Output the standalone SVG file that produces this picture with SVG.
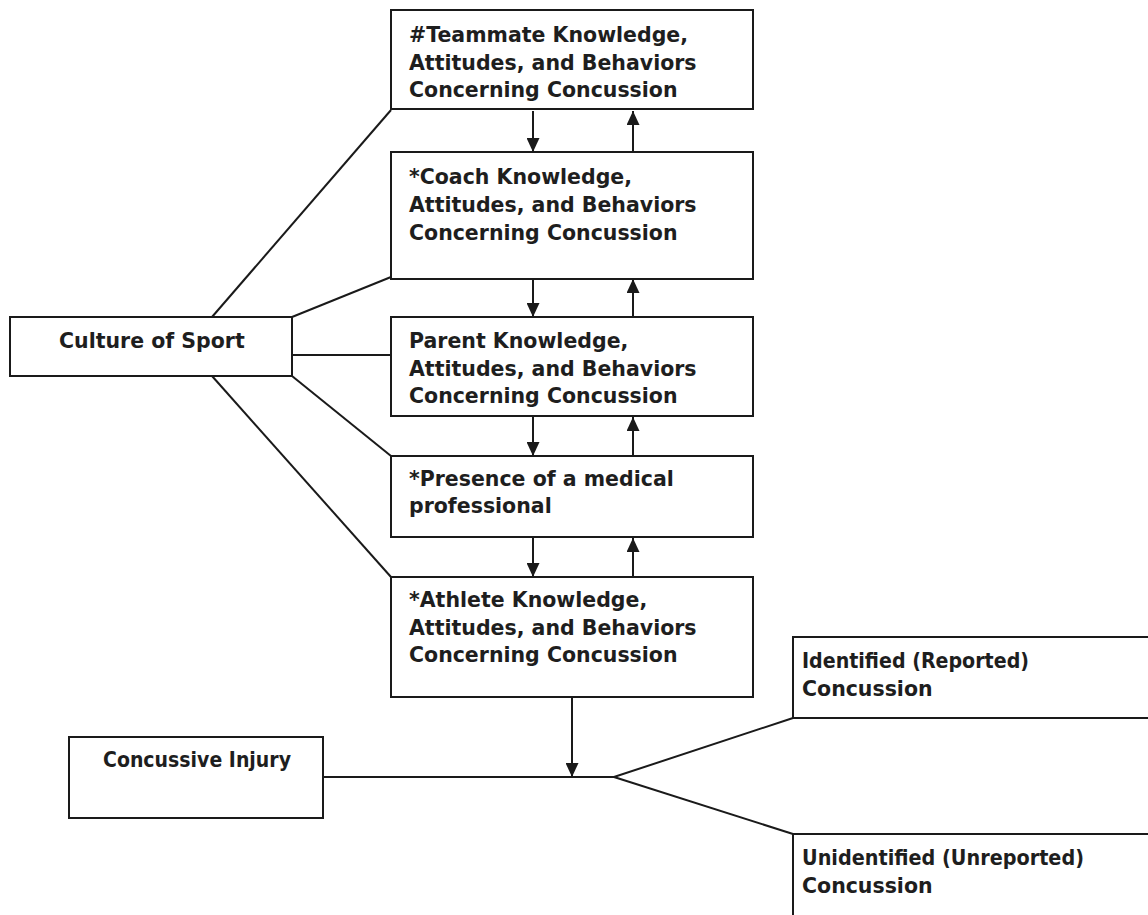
<svg xmlns="http://www.w3.org/2000/svg" width="1148" height="915" viewBox="0 0 1148 915">
  <style>
    .box { fill: #ffffff; stroke: #1a1a1a; stroke-width: 2; }
    .lbl { font-family: "DejaVu Sans", Verdana, sans-serif; font-weight: bold; font-size: 20.5px; fill: #1e1e1e; }
    .link { fill: none; stroke: #1a1a1a; stroke-width: 2; }
    .arrow { fill: none; stroke: #1a1a1a; stroke-width: 2; marker-end: url(#head); }
  </style>
  <defs>
    <marker id="head" viewBox="0 0 14 13" refX="14" refY="6.5" markerWidth="14" markerHeight="13" markerUnits="userSpaceOnUse" orient="auto">
      <path d="M0,0 L14,6.5 L0,13 Z" fill="#1a1a1a"/>
    </marker>
  </defs>
  <rect width="1148" height="915" fill="#ffffff"/>

  <!-- connectors -->
  <g id="connectors">
    <!-- culture of sport fan-out -->
    <line class="link" x1="212" y1="317" x2="391" y2="110"/>
    <line class="link" x1="292" y1="317" x2="391" y2="277"/>
    <line class="link" x1="292" y1="355" x2="391" y2="355"/>
    <line class="link" x1="292" y1="376" x2="391" y2="456"/>
    <line class="link" x1="212" y1="376" x2="391" y2="577"/>
    <!-- vertical influence chain -->
    <line class="arrow" x1="533" y1="111" x2="533" y2="152"/>
    <line class="arrow" x1="633" y1="152" x2="633" y2="111"/>
    <line class="arrow" x1="533" y1="276" x2="533" y2="317"/>
    <line class="arrow" x1="633" y1="317" x2="633" y2="279"/>
    <line class="arrow" x1="533" y1="416" x2="533" y2="456"/>
    <line class="arrow" x1="633" y1="456" x2="633" y2="417"/>
    <line class="arrow" x1="533" y1="537" x2="533" y2="577"/>
    <line class="arrow" x1="633" y1="577" x2="633" y2="538"/>
    <!-- athlete to injury outcome -->
    <line class="arrow" x1="572" y1="697" x2="572" y2="777"/>
    <polyline class="link" points="323,777 614,777 793,718"/>
    <line class="link" x1="614" y1="777" x2="793" y2="834"/>
  </g>

  <g id="teammate">
    <rect class="box" x="391" y="10" width="362" height="99"/>
    <text class="lbl" x="409" y="42">#Teammate Knowledge,</text>
    <text class="lbl" x="409" y="69.5">Attitudes, and Behaviors</text>
    <text class="lbl" x="409" y="97">Concerning Concussion</text>
  </g>

  <g id="coach">
    <rect class="box" x="391" y="152" width="362" height="127"/>
    <text class="lbl" x="409" y="184">*Coach Knowledge,</text>
    <text class="lbl" x="409" y="212">Attitudes, and Behaviors</text>
    <text class="lbl" x="409" y="240">Concerning Concussion</text>
  </g>

  <g id="parent">
    <rect class="box" x="391" y="317" width="362" height="99"/>
    <text class="lbl" x="409" y="348">Parent Knowledge,</text>
    <text class="lbl" x="409" y="375.5">Attitudes, and Behaviors</text>
    <text class="lbl" x="409" y="403">Concerning Concussion</text>
  </g>

  <g id="medical">
    <rect class="box" x="391" y="456" width="362" height="81"/>
    <text class="lbl" x="409" y="486">*Presence of a medical</text>
    <text class="lbl" x="409" y="513">professional</text>
  </g>

  <g id="athlete">
    <rect class="box" x="391" y="577" width="362" height="120"/>
    <text class="lbl" x="409" y="607">*Athlete Knowledge,</text>
    <text class="lbl" x="409" y="635">Attitudes, and Behaviors</text>
    <text class="lbl" x="409" y="662">Concerning Concussion</text>
  </g>

  <g id="culture">
    <rect class="box" x="10" y="317" width="282" height="59"/>
    <text class="lbl" x="59" y="348">Culture of Sport</text>
  </g>

  <g id="injury">
    <rect class="box" x="69" y="737" width="254" height="81"/>
    <text class="lbl" x="103" y="767" textLength="188" lengthAdjust="spacingAndGlyphs">Concussive Injury</text>
  </g>

  <g id="identified">
    <rect class="box" x="793" y="637" width="380" height="81"/>
    <text class="lbl" x="802" y="668" textLength="227" lengthAdjust="spacingAndGlyphs">Identified (Reported)</text>
    <text class="lbl" x="802" y="696">Concussion</text>
  </g>

  <g id="unidentified">
    <rect class="box" x="793" y="834" width="380" height="120"/>
    <text class="lbl" x="802" y="865" textLength="282" lengthAdjust="spacingAndGlyphs">Unidentified (Unreported)</text>
    <text class="lbl" x="802" y="893">Concussion</text>
  </g>
</svg>
